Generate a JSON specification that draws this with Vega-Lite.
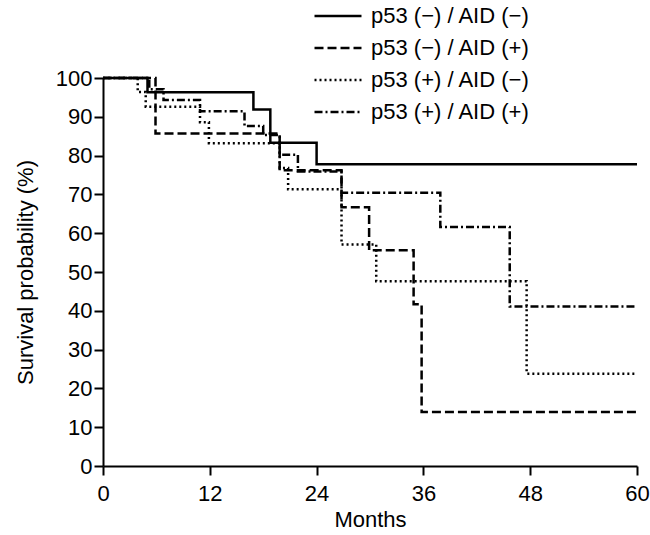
{
  "$schema": "https://vega.github.io/schema/vega-lite/v6.json",
  "autosize": {"type": "none"},
  "padding": {"left": 103, "top": 78, "right": 13, "bottom": 69},
  "width": 534,
  "height": 388,
  "background": "white",
  "data": {
    "values": [
      {"series": "p53 (−) / AID (−)", "month": 0, "surv": 100},
      {"series": "p53 (−) / AID (−)", "month": 5.0, "surv": 96.3},
      {"series": "p53 (−) / AID (−)", "month": 16.9, "surv": 91.9},
      {"series": "p53 (−) / AID (−)", "month": 18.8, "surv": 83.3},
      {"series": "p53 (−) / AID (−)", "month": 24.0, "surv": 77.8},
      {"series": "p53 (−) / AID (−)", "month": 60, "surv": 77.8},

      {"series": "p53 (−) / AID (+)", "month": 0, "surv": 100},
      {"series": "p53 (−) / AID (+)", "month": 5.9, "surv": 85.7},
      {"series": "p53 (−) / AID (+)", "month": 19.85, "surv": 76.2},
      {"series": "p53 (−) / AID (+)", "month": 26.8, "surv": 66.7},
      {"series": "p53 (−) / AID (+)", "month": 29.9, "surv": 55.6},
      {"series": "p53 (−) / AID (+)", "month": 34.9, "surv": 41.7},
      {"series": "p53 (−) / AID (+)", "month": 35.8, "surv": 13.9},
      {"series": "p53 (−) / AID (+)", "month": 60, "surv": 13.9},

      {"series": "p53 (+) / AID (−)", "month": 0, "surv": 100},
      {"series": "p53 (+) / AID (−)", "month": 3.9, "surv": 96.4},
      {"series": "p53 (+) / AID (−)", "month": 4.8, "surv": 92.6},
      {"series": "p53 (+) / AID (−)", "month": 10.9, "surv": 88.6},
      {"series": "p53 (+) / AID (−)", "month": 11.9, "surv": 83.2},
      {"series": "p53 (+) / AID (−)", "month": 19.85, "surv": 76.8},
      {"series": "p53 (+) / AID (−)", "month": 20.8, "surv": 71.3},
      {"series": "p53 (+) / AID (−)", "month": 26.8, "surv": 57.1},
      {"series": "p53 (+) / AID (−)", "month": 30.7, "surv": 47.6},
      {"series": "p53 (+) / AID (−)", "month": 47.6, "surv": 23.8},
      {"series": "p53 (+) / AID (−)", "month": 60, "surv": 23.8},

      {"series": "p53 (+) / AID (+)", "month": 0, "surv": 100},
      {"series": "p53 (+) / AID (+)", "month": 5.2, "surv": 97.1},
      {"series": "p53 (+) / AID (+)", "month": 6.8, "surv": 94.3},
      {"series": "p53 (+) / AID (+)", "month": 10.9, "surv": 91.4},
      {"series": "p53 (+) / AID (+)", "month": 15.9, "surv": 87.6},
      {"series": "p53 (+) / AID (+)", "month": 18.0, "surv": 85.3},
      {"series": "p53 (+) / AID (+)", "month": 19.85, "surv": 80.2},
      {"series": "p53 (+) / AID (+)", "month": 21.9, "surv": 75.9},
      {"series": "p53 (+) / AID (+)", "month": 26.8, "surv": 70.4},
      {"series": "p53 (+) / AID (+)", "month": 37.9, "surv": 61.6},
      {"series": "p53 (+) / AID (+)", "month": 45.7, "surv": 41.1},
      {"series": "p53 (+) / AID (+)", "month": 60, "surv": 41.1}
    ]
  },
  "mark": {"type": "line", "interpolate": "step-after", "color": "black", "strokeWidth": 2.5, "clip": false},
  "encoding": {
    "x": {
      "field": "month", "type": "quantitative",
      "scale": {"domain": [0, 60], "nice": false, "zero": false},
      "axis": {"values": [0, 12, 24, 36, 48, 60], "title": "Months", "grid": false, "labelPadding": 8, "titlePadding": 5}
    },
    "y": {
      "field": "surv", "type": "quantitative",
      "scale": {"domain": [0, 100], "nice": false},
      "axis": {"values": [0, 10, 20, 30, 40, 50, 60, 70, 80, 90, 100], "title": "Survival probability (%)", "grid": false, "labelPadding": 2, "titlePadding": 18}
    },
    "strokeDash": {
      "field": "series", "type": "nominal",
      "scale": {
        "domain": ["p53 (−) / AID (−)", "p53 (−) / AID (+)", "p53 (+) / AID (−)", "p53 (+) / AID (+)"],
        "range": [[1, 0], [9, 4], [2, 3], [8, 3, 2, 3]]
      },
      "legend": {"title": null}
    },
    "detail": {"field": "series", "type": "nominal"}
  },
  "config": {
    "view": {"stroke": null},
    "font": "Liberation Sans",
    "axis": {
      "domainColor": "black", "domainWidth": 2,
      "tickColor": "black", "tickWidth": 2, "tickSize": 9,
      "labelColor": "black", "labelFontSize": 22, "labelFont": "Liberation Sans",
      "titleColor": "black", "titleFontSize": 22, "titleFontWeight": "normal", "titleFont": "Liberation Sans",
      "labelFlush": false, "labelOverlap": false
    },
    "legend": {
      "orient": "none", "legendX": 222, "legendY": -75, "padding": 0,
      "symbolType": "M-2,0H2", "symbolSize": 552, "symbolStrokeWidth": 2.5, "symbolStrokeColor": "black",
      "labelFontSize": 22, "labelColor": "black", "labelFont": "Liberation Sans",
      "labelOffset": 20, "rowPadding": 8, "labelLimit": 400
    }
  }
}
